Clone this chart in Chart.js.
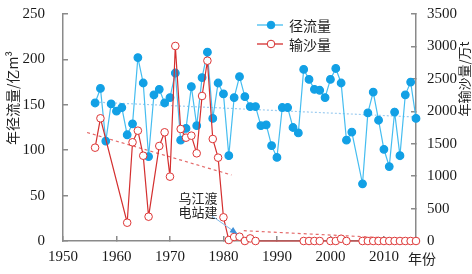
<!DOCTYPE html>
<html>
<head>
<meta charset="utf-8">
<script src="https://cdn.jsdelivr.net/npm/chart.js@4.4.1/dist/chart.umd.min.js"></script>
<style>
  html, body { margin: 0; padding: 0; background: #fff; }
  #wrap { width: 472px; height: 274px; }
</style>
</head>
<body>
<div id="wrap"><canvas id="chart"></canvas></div>
<script>
// years of record
const years = [1956, 1957, 1958, 1959, 1960, 1961, 1962, 1963, 1964, 1965,
  1966, 1967, 1968, 1969, 1970, 1971, 1972, 1973, 1974, 1975,
  1976, 1977, 1978, 1979, 1980, 1981, 1982, 1983, 1984, 1985,
  1986, 1987, 1988, 1989, 1990, 1991, 1992, 1993, 1994, 1995,
  1996, 1997, 1998, 1999, 2000, 2001, 2002, 2003, 2004, 2005,
  2006, 2007, 2008, 2009, 2010, 2011, 2012, 2013, 2014, 2015, 2016];

// 年径流量 (亿m3), left axis
const runoff = [152, 168, 110, 151, 143, 147, 117, 129, 202, 174,
  93, 161, 167, 152, 158, 185, 111, 124, 170, 127,
  180, 208, 135, 174, 162, 94, 158, 181, 159, 148,
  148, 127, 128, 105, 92, 147, 147, 125, 119, 189,
  178, 167, 166, 158, 178, 190, 174, 111, 120, null,
  63, 141, 164, 133, 101, 82, 142, 94, 161, 175, 135];

// 年输沙量 (万t), right axis
const sediment = [1439, 1892, null, null, null, null, 282, 1522, 1701, 1315,
  375, null, 1465, 1676, 992, 3007, 1727, 1593, 1624, 1352,
  2236, 2780, 1573, 1285, 365, 15, 62, 66, 0, 40,
  0, null, null, null, null, null, null, null, null, 0,
  0, 0, 0, null, 0, 0, 35, 0, null, null,
  0, 0, 0, 0, 0, 0, 0, 0, 0, 0, 0];

// trend lines [year, value]
const runoffTrend = [[1956, 153], [2016, 136.5]];
const sedTrendBefore = [[1954.5, 1673], [1981.5, 1018]];
const sedTrendAfter = [[1983.8, 159], [2016, 26]];

const xTicks = [1950, 1960, 1970, 1980, 1990, 2000, 2010];

const BLUE_LINE = '#45bdf0';
const BLUE_DOT = '#12a0e5';
const RED = '#d42f2f';
const AXIS = '#8a8a8a';
const CJK = '"Noto Sans CJK SC", sans-serif';

Chart.defaults.font.family = "'Liberation Serif', 'Times New Roman', serif";
Chart.defaults.font.size = 15;
Chart.defaults.color = '#1a1a1a';

const toXY = (vals) => years.map((y, i) => ({ x: y, y: vals[i] }));
const pairs = (arr) => arr.map(p => ({ x: p[0], y: p[1] }));

// titles, legend and the dam note
const extras = {
  id: 'extras',
  afterDraw(chart) {
    const c = chart.ctx;
    const sx = chart.scales.x, y2 = chart.scales.y2;
    c.save();
    c.fillStyle = '#222';
    c.font = '14px ' + CJK;
    c.textAlign = 'center';
    c.textBaseline = 'middle';

    // axis titles
    c.save();
    c.translate(13, 98);
    c.rotate(-Math.PI / 2);
    c.fillText('年径流量/亿m³', 0, 0);
    c.restore();
    c.save();
    c.font = '13px ' + CJK;
    c.translate(464, 79);
    c.rotate(-Math.PI / 2);
    c.fillText('年输沙量/万t', 0, 0);
    c.restore();
    c.fillText('年份', 422, 259);

    // legend
    c.textAlign = 'left';
    const lx = 257, rows = [
      { y: 25, label: '径流量', line: BLUE_LINE, fill: BLUE_DOT, stroke: BLUE_DOT },
      { y: 44, label: '输沙量', line: RED, fill: '#fff', stroke: RED }
    ];
    rows.forEach(r => {
      c.strokeStyle = r.line;
      c.lineWidth = 1.3;
      c.beginPath();
      c.moveTo(lx, r.y);
      c.lineTo(lx + 26, r.y);
      c.stroke();
      c.beginPath();
      c.arc(lx + 14, r.y, 3.8, 0, Math.PI * 2);
      c.fillStyle = r.fill;
      c.fill();
      c.strokeStyle = r.stroke;
      c.lineWidth = 1;
      c.stroke();
      c.fillStyle = '#222';
      c.fillText(r.label, lx + 32, r.y + 1);
    });

    // dam note with arrow
    c.font = '13px ' + CJK;
    c.textAlign = 'center';
    c.fillText('乌江渡', 198, 198);
    c.fillText('电站建', 198, 212);
    const tipX = sx.getPixelForValue(1982.6), tipY = y2.getPixelForValue(110);
    c.strokeStyle = '#7fb8e6';
    c.lineWidth = 1;
    c.beginPath();
    c.moveTo(212, 216);
    c.lineTo(tipX, tipY);
    c.stroke();
    const ang = Math.atan2(tipY - 216, tipX - 212);
    c.fillStyle = '#3d8fd8';
    c.beginPath();
    c.moveTo(tipX, tipY);
    c.lineTo(tipX - 8 * Math.cos(ang - 0.4), tipY - 8 * Math.sin(ang - 0.4));
    c.lineTo(tipX - 8 * Math.cos(ang + 0.4), tipY - 8 * Math.sin(ang + 0.4));
    c.closePath();
    c.fill();
    c.restore();
  }
};

const plain = v => String(v);
const gridOpts = { drawOnChartArea: false, color: AXIS, tickLength: -5, lineWidth: 1.5 };

new Chart(document.getElementById('chart'), {
  type: 'line',
  data: {
    datasets: [
      {
        label: '输沙量',
        data: toXY(sediment),
        yAxisID: 'y2',
        borderColor: RED,
        borderWidth: 1.2,
        pointRadius: 3.8,
        pointBackgroundColor: '#fff',
        pointBorderColor: '#dd3535',
        pointBorderWidth: 1,
        spanGaps: true,
        clip: false,
        order: 0
      },
      {
        label: '径流量',
        data: toXY(runoff),
        yAxisID: 'y',
        borderColor: BLUE_LINE,
        borderWidth: 1.2,
        pointRadius: 3.8,
        pointBackgroundColor: BLUE_DOT,
        pointBorderColor: BLUE_DOT,
        spanGaps: true,
        clip: false,
        order: 1
      },
      {
        data: pairs(runoffTrend),
        yAxisID: 'y',
        borderColor: '#9fcdf0',
        borderWidth: 1.2,
        borderDash: [2, 2],
        pointRadius: 0,
        order: 2
      },
      {
        data: pairs(sedTrendBefore),
        yAxisID: 'y2',
        borderColor: '#e46a6a',
        borderWidth: 1.2,
        borderDash: [3, 3],
        pointRadius: 0,
        order: 2
      },
      {
        data: pairs(sedTrendAfter),
        yAxisID: 'y2',
        borderColor: '#e46a6a',
        borderWidth: 1.2,
        borderDash: [3, 3],
        pointRadius: 0,
        order: 2
      }
    ]
  },
  options: {
    responsive: true,
    maintainAspectRatio: false,
    animation: false,
    layout: { autoPadding: false, padding: { top: 14, left: 0, right: 0, bottom: 0 } },
    plugins: { legend: { display: false }, tooltip: { enabled: false } },
    scales: {
      x: {
        type: 'linear',
        min: 1950,
        max: 2016,
        afterBuildTicks: s => { s.ticks = xTicks.map(v => ({ value: v })); },
        afterFit: s => { s.height = 33; s.paddingLeft = 0; s.paddingRight = 0; },
        border: { color: AXIS, width: 1.5 },
        grid: gridOpts,
        ticks: { callback: plain, padding: 12, maxRotation: 0 }
      },
      y: {
        position: 'left',
        min: 0,
        max: 250,
        afterFit: s => { s.width = 63; s.paddingTop = 0; s.paddingBottom = 0; },
        border: { color: AXIS, width: 1.5 },
        grid: gridOpts,
        ticks: { stepSize: 50, callback: plain, padding: 23 }
      },
      y2: {
        position: 'right',
        min: 0,
        max: 3500,
        afterFit: s => { s.width = 56; s.paddingTop = 0; s.paddingBottom = 0; },
        border: { color: AXIS, width: 1.5 },
        grid: gridOpts,
        ticks: { stepSize: 500, callback: plain, padding: 16 }
      }
    }
  },
  plugins: [extras]
});
</script>
</body>
</html>
